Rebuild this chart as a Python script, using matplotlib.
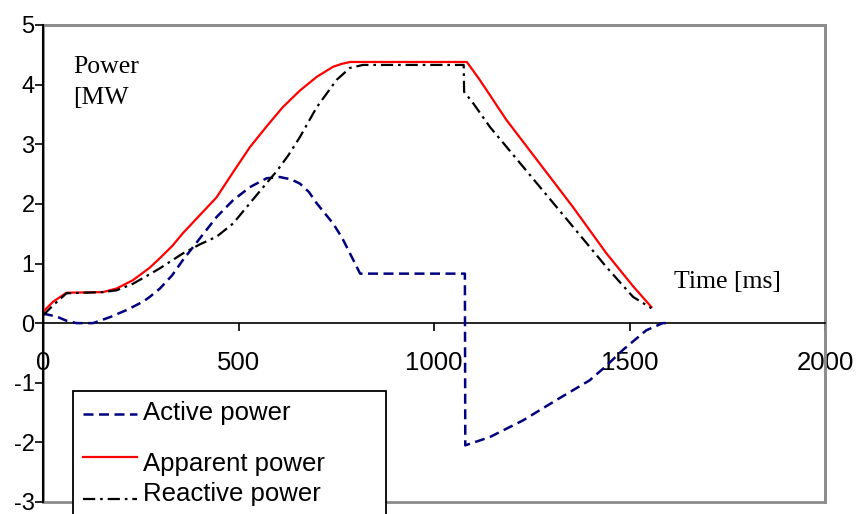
import matplotlib
matplotlib.use("Agg")
import matplotlib.pyplot as plt
from matplotlib.patches import Rectangle
from matplotlib.lines import Line2D

# Time axes (ms) and power values (MW) for each series
active_t = [0, 35, 60, 86, 128, 171, 214, 256, 273, 299, 330, 358, 401, 444, 486,
            529, 572, 606, 635, 657, 680, 700, 742, 765, 785, 802, 811, 1079, 1080,
            1143, 1228, 1313, 1398, 1440, 1483, 1543, 1585, 1600]
active_p = [0.16, 0.11, 0.04, 0.0, 0.0, 0.10, 0.22, 0.36, 0.44, 0.58, 0.80, 1.06,
            1.42, 1.78, 2.06, 2.28, 2.43, 2.45, 2.41, 2.34, 2.20, 2.01, 1.67, 1.43,
            1.17, 0.95, 0.83, 0.83, -2.05, -1.91, -1.63, -1.29, -0.96, -0.72, -0.45,
            -0.12, 0.0, 0.0]

apparent_t = [0, 26, 60, 153, 188, 230, 273, 299, 330, 358, 401, 444, 486, 529,
              572, 613, 657, 700, 742, 765, 786, 1084, 1117, 1185, 1270, 1355, 1441,
              1509, 1556]
apparent_p = [0.19, 0.36, 0.51, 0.52, 0.58, 0.72, 0.93, 1.09, 1.29, 1.51, 1.81,
              2.11, 2.53, 2.95, 3.30, 3.62, 3.90, 4.13, 4.30, 4.35, 4.38, 4.38,
              4.08, 3.41, 2.68, 1.95, 1.17, 0.62, 0.27]

reactive_t = [0, 26, 60, 153, 188, 230, 273, 299, 358, 401, 444, 486, 529, 572,
              598, 628, 657, 700, 751, 785, 818, 1076, 1077, 1100, 1143, 1185,
              1270, 1355, 1441, 1509, 1556]
reactive_p = [0.13, 0.30, 0.50, 0.52, 0.55, 0.66, 0.82, 0.92, 1.17, 1.32, 1.45,
              1.67, 2.01, 2.35, 2.55, 2.82, 3.12, 3.62, 4.08, 4.28, 4.33, 4.33,
              3.88, 3.69, 3.29, 2.96, 2.29, 1.62, 0.94, 0.44, 0.25]

series_names = ["Active power", "Apparent power", "Reactive power"]
x_ticks = [0, 500, 1000, 1500, 2000]
y_ticks = [-3, -2, -1, 0, 1, 2, 3, 4, 5]

W, H = 858, 514
fig = plt.figure(figsize=(W / 100, H / 100), dpi=100)
ax = fig.add_axes([43 / W, 12 / H, 782 / W, 477 / H])

sans = "Liberation Sans"
serif = "Liberation Serif"

blue = "#000080"
red = "#ff0000"
black = "#000000"
dash_active = (0, (4, 2.2))
dash_reactive = (0, (5.5, 2.2, 1.2, 2.2))

ax.plot(active_t, active_p, color=blue, lw=1.8, linestyle=dash_active, zorder=3)
ax.plot(apparent_t, apparent_p, color=red, lw=1.6, zorder=4)
ax.plot(reactive_t, reactive_p, color=black, lw=1.6, linestyle=dash_reactive, zorder=5)

# Plot-area frame in grey, left axis and zero line in black
for side in ("top", "right"):
    ax.spines[side].set_color("#8c8c8c")
    ax.spines[side].set_linewidth(2)
ax.spines["left"].set_color("black")
ax.spines["left"].set_linewidth(1.5)
ax.spines["left"].set_zorder(6)
ax.spines["bottom"].set_position(("data", 0))
ax.spines["bottom"].set_color("black")
ax.spines["bottom"].set_linewidth(1.2)
ax.add_patch(Rectangle((0, 0), 1, 1, transform=ax.transAxes, fill=False,
                       ec="#8c8c8c", lw=2, clip_on=False, zorder=1))

ax.set_xlim(0, 2000)
ax.set_ylim(-3, 5)
ax.set_xticks(x_ticks)
ax.set_yticks(y_ticks)
ax.set_xticklabels([str(v) for v in x_ticks], fontfamily=sans, fontsize=18.5)
ax.set_yticklabels([str(v) for v in y_ticks], fontfamily=sans, fontsize=17)
ax.tick_params(axis="y", direction="out", length=6, width=1.2, pad=0, color="black")
ax.tick_params(axis="x", direction="out", length=6, width=1.2, pad=14, color="black")

ax.text(77, 4.19, "Power", fontfamily=serif, fontsize=18.5, va="baseline", ha="left")
ax.text(77, 3.68, "[MW", fontfamily=serif, fontsize=18.5, va="baseline", ha="left")
ax.text(1615, 0.59, "Time [ms]", fontfamily=serif, fontsize=18.5, va="baseline", ha="left")


def fx(px):
    return px / W


def fy(py):
    return 1 - py / H


# Legend box, running off the lower edge of the figure
fig.add_artist(Rectangle((fx(73), fy(530)), fx(386) - fx(73), fy(391) - fy(530),
                         transform=fig.transFigure, facecolor="white",
                         edgecolor="black", lw=1.3, zorder=10))
entries = [
    (series_names[0], dict(color=blue, lw=1.8, linestyle=dash_active), 414, 413),
    (series_names[1], dict(color=red, lw=1.6), 457, 464),
    (series_names[2], dict(color=black, lw=1.6, linestyle=dash_reactive), 499, 494),
]
for name, style, ly, ty in entries:
    fig.add_artist(Line2D([fx(83), fx(137)], [fy(ly), fy(ly)],
                          transform=fig.transFigure, zorder=11, **style))
    fig.text(fx(143), fy(ty), name, fontfamily=sans, fontsize=18.5,
             va="center", ha="left", zorder=12)

fig.savefig("out.png", dpi=100)
